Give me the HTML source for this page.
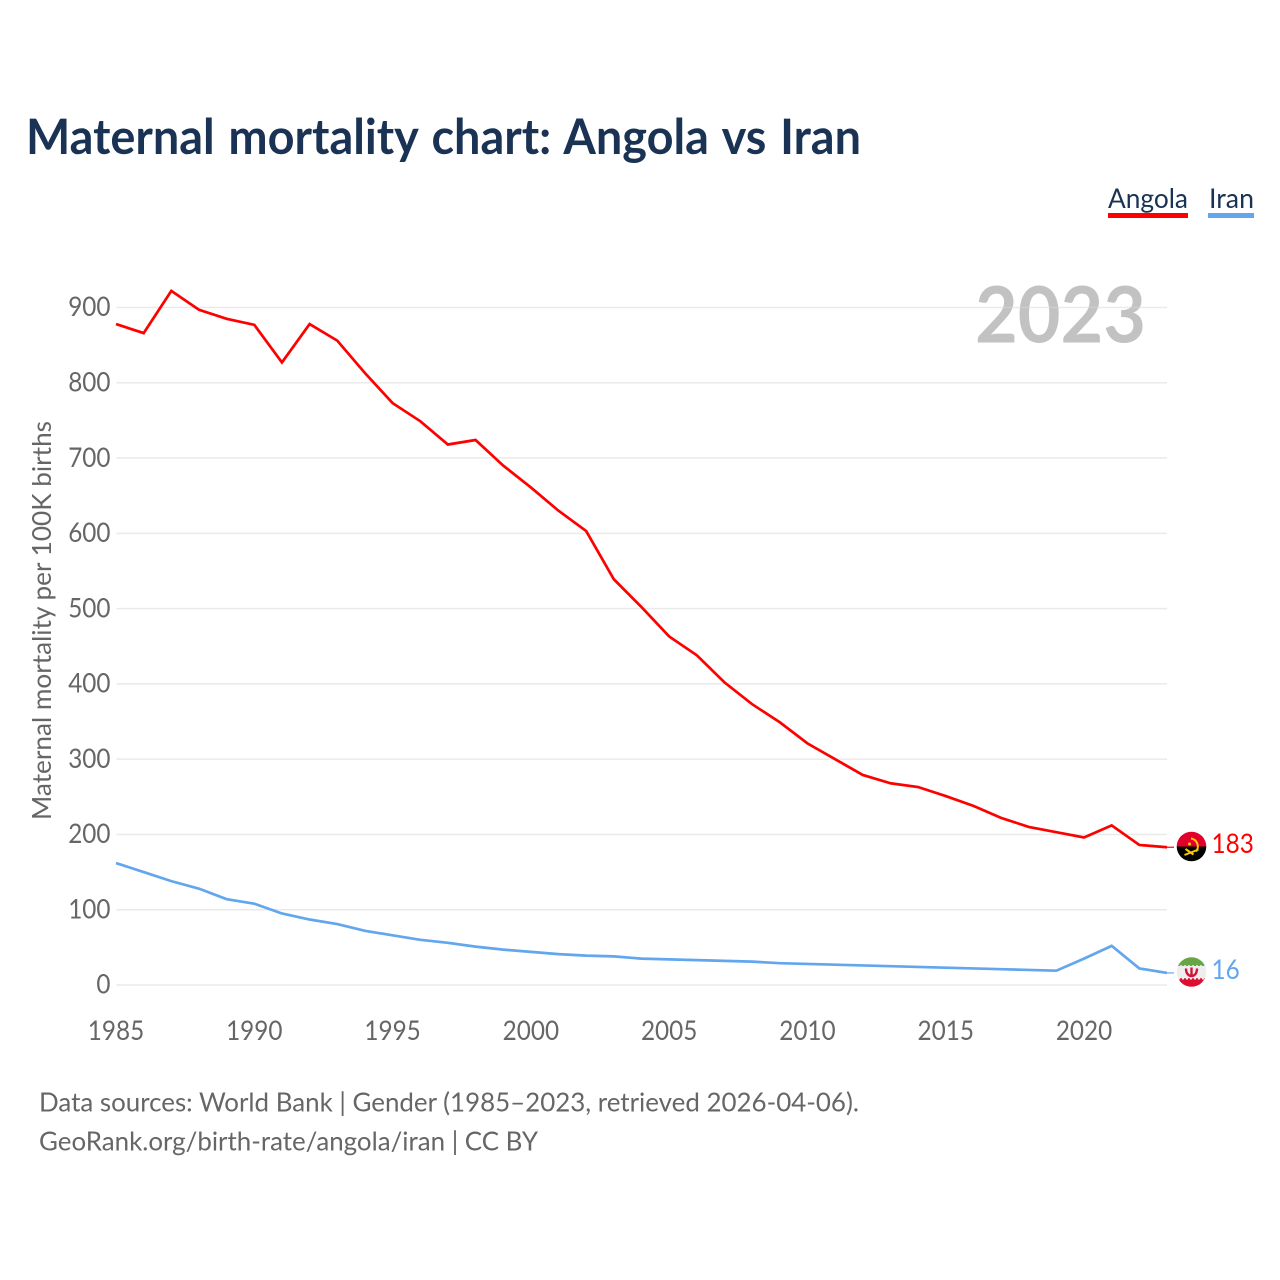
<!DOCTYPE html>
<html lang="en">
<head>
<meta charset="utf-8">
<title>Maternal mortality chart: Angola vs Iran</title>
<style>
html,body{margin:0;padding:0;background:#fff;width:1280px;height:1280px;overflow:hidden}
svg{display:block}
text{font-family:"Lato","Carlito","Liberation Sans",sans-serif}
</style>
</head>
<body>
<svg id="chart" xmlns="http://www.w3.org/2000/svg" width="1280" height="1280" viewBox="0 0 1280 1280">
  <rect x="0" y="0" width="1280" height="1280" fill="#fff"/>
  <text x="26" y="154" font-size="49" font-weight="700" word-spacing="2.500" fill="#1a3354" textLength="835" lengthAdjust="spacingAndGlyphs">Maternal mortality chart: Angola vs Iran</text>

  <g>
    <text x="1108" y="208" font-size="27.500" fill="#1a3354" textLength="80" lengthAdjust="spacingAndGlyphs">Angola</text>
    <rect x="1108" y="213" width="80" height="5" fill="#ff0000"/>
  </g>
  <g>
    <text x="1209" y="208" font-size="27.500" fill="#1a3354" textLength="45" lengthAdjust="spacingAndGlyphs">Iran</text>
    <rect x="1208" y="213" width="46" height="5" fill="#62a6ee"/>
  </g>

  <text x="975" y="342.500" font-size="77.500" font-weight="700" fill="#c2c2c2" textLength="171" lengthAdjust="spacingAndGlyphs">2023</text>

  <g id="grid"></g>
  <g id="yticks"></g>
  <g id="xticks"></g>

  <text transform="translate(51,620.500) rotate(-90)" text-anchor="middle" font-size="26.500" fill="#666" textLength="399" lengthAdjust="spacingAndGlyphs">Maternal mortality per 100K births</text>

  <g id="series"></g>
  <g id="ends"></g>

  <defs>
    <clipPath id="clip-angola"><circle cx="1191.500" cy="846.500" r="14.800"/></clipPath>
    <clipPath id="clip-iran"><circle cx="1191.500" cy="972" r="14.800"/></clipPath>
  </defs>
  <g clip-path="url(#clip-angola)">
    <rect x="1176" y="831" width="31" height="15.500" fill="#e2002a"/>
    <rect x="1176" y="846.500" width="31" height="16" fill="#000"/>
    <path d="M1191 838.500a8 8 0 0 1 5 13" fill="none" stroke="#ffcb00" stroke-width="2"/>
    <path d="M1184.500 855l14-5.500M1185.500 849l8 5.500" fill="none" stroke="#ffcb00" stroke-width="2"/>
    <circle cx="1189.500" cy="844" r="1.500" fill="#ffcb00"/>
  </g>
  <g clip-path="url(#clip-iran)">
    <rect x="1176" y="957" width="31" height="10" fill="#66a645"/>
    <rect x="1176" y="966" width="31" height="14" fill="#eeeeee"/>
    <rect x="1176" y="979.500" width="31" height="9" fill="#dc0f33"/>
    <line x1="1176" x2="1207" y1="966" y2="966" stroke="#eeeeee" stroke-width="1.500" stroke-dasharray="2 2"/>
    <line x1="1176" x2="1207" y1="979" y2="979" stroke="#dc0f33" stroke-width="1.500" stroke-dasharray="2 2"/>
    <path d="M1186 968.500c0 5.500 3 7.500 5.500 7.500s5.500-2 5.500-7.500M1191.500 967.500v9" fill="none" stroke="#d31236" stroke-width="2.400"/>
  </g>

  <g font-size="26.500" fill="#666">
    <text x="39" y="1111.500" textLength="820" lengthAdjust="spacingAndGlyphs">Data sources: World Bank | Gender (1985–2023, retrieved 2026-04-06).</text>
    <text x="39" y="1150.500" textLength="499" lengthAdjust="spacingAndGlyphs">GeoRank.org/birth-rate/angola/iran | CC BY</text>
  </g>
</svg>
<script>
const years = [1985,1986,1987,1988,1989,1990,1991,1992,1993,1994,1995,1996,1997,1998,1999,2000,2001,2002,2003,2004,2005,2006,2007,2008,2009,2010,2011,2012,2013,2014,2015,2016,2017,2018,2019,2020,2021,2022,2023];
const angolaValues = [878,866,922,897,885,877,827,878,856,813,773,749,718,724,690,661,630,603,539,502,463,438,402,373,349,321,300,279,268,263,251,238,222,210,203,196,212,186,183];
const iranValues = [162,150,138,128,114,108,95,87,81,72,66,60,56,51,47,44,41,39,38,35,34,33,32,31,29,28,27,26,25,24,23,22,21,20,19,35,52,22,16];
const yTickValues = [0,100,200,300,400,500,600,700,800,900];
const xTickValues = [1985,1990,1995,2000,2005,2010,2015,2020];

const NS = 'http://www.w3.org/2000/svg';
const DIGIT_WIDTH = 14.1;
const xScale = function (year) { return 116 + (year - 1985) * (1167 - 116) / 38; };
const yScale = function (value) { return 985 - value * (985 - 307.5) / 900; };

function make(tag, parent, attrs) {
  const el = document.createElementNS(NS, tag);
  Object.keys(attrs).forEach(function (k) { el.setAttribute(k, attrs[k]); });
  parent.appendChild(el);
  return el;
}

function digitLength(value) { return String(value).length * DIGIT_WIDTH; }

const grid = document.getElementById('grid');
const yticks = document.getElementById('yticks');
const xticks = document.getElementById('xticks');
const series = document.getElementById('series');
const ends = document.getElementById('ends');

yTickValues.forEach(function (v) {
  const line = make('line', grid, {x1: 116.5, x2: 1167, y1: yScale(v), y2: yScale(v), stroke: '#d8d8d8', 'stroke-opacity': 0.55, 'stroke-width': 1.5});
  
  
  const label = make('text', yticks, {x: 110.5, y: yScale(v) + 8.7, 'text-anchor': 'end', 'font-size': 27, fill: '#666', textLength: digitLength(v), lengthAdjust: 'spacingAndGlyphs'});
  
  
  label.textContent = v;
});

xTickValues.forEach(function (y) {
  const label = make('text', xticks, {x: xScale(y), y: 1040, 'text-anchor': 'middle', 'font-size': 27, fill: '#666', textLength: digitLength(y), lengthAdjust: 'spacingAndGlyphs'});
  
  
  label.textContent = y;
});

function linePath(values) {
  return values.map(function (v, i) {
    return (i ? 'L' : 'M') + xScale(years[i]).toFixed(2) + ' ' + yScale(v).toFixed(2);
  }).join('');
}

const iranLine = make('path', series, {d: linePath(iranValues), fill: 'none', stroke: '#62a6ee', 'stroke-width': 2.7, 'stroke-linejoin': 'miter'});


const angolaLine = make('path', series, {d: linePath(angolaValues), fill: 'none', stroke: '#ff0000', 'stroke-width': 2.7, 'stroke-linejoin': 'miter'});



const lastX = xScale(years[years.length - 1]);
const angolaLast = angolaValues[angolaValues.length - 1];
const iranLast = iranValues[iranValues.length - 1];

const angolaLeader = make('line', ends, {x1: lastX, x2: lastX + 7, y1: yScale(angolaLast), y2: yScale(angolaLast), stroke: '#ff0000', 'stroke-width': 1.2});


const iranLeader = make('line', ends, {x1: lastX, x2: lastX + 7, y1: yScale(iranLast), y2: yScale(iranLast), stroke: '#62a6ee', 'stroke-width': 1.2});



const angolaEnd = make('text', ends, {x: 1211.5, y: 853, 'font-size': 27, fill: '#ff0000', textLength: digitLength(angolaLast), lengthAdjust: 'spacingAndGlyphs'});


angolaEnd.textContent = angolaLast;
const iranEnd = make('text', ends, {x: 1211.5, y: 979, 'font-size': 27, fill: '#62a6ee', textLength: digitLength(iranLast), lengthAdjust: 'spacingAndGlyphs'});


iranEnd.textContent = iranLast;
</script>
</body>
</html>
